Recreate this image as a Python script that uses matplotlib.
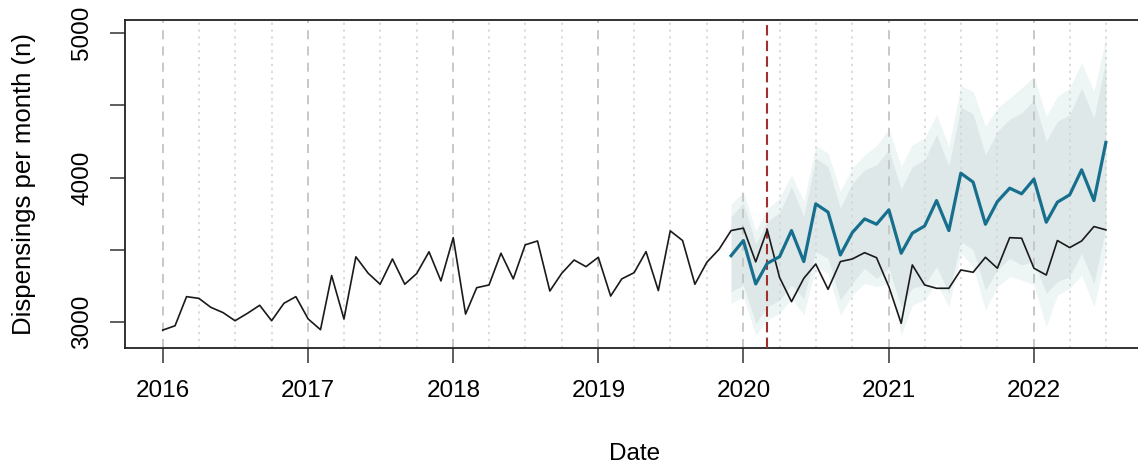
import numpy as np
import pandas as pd
import matplotlib
matplotlib.use("Agg")
import matplotlib.pyplot as plt
import matplotlib.dates as mdates

plt.rcParams['font.family'] = ['Liberation Sans', 'DejaVu Sans']

# observed monthly dispensings, Jan 2016 - Jul 2022
observed = [
    2942, 2972, 3174, 3162, 3100, 3063, 3007, 3058, 3114, 3007, 3128, 3174,
    3019, 2945, 3320, 3019, 3450, 3336, 3260, 3435, 3260, 3334, 3485, 3283,
    3583, 3053, 3236, 3255, 3475, 3297, 3533, 3560, 3213, 3336, 3428, 3382,
    3447, 3178, 3297, 3340, 3486, 3216, 3630, 3563, 3260, 3412, 3503, 3632,
    3649, 3415, 3637, 3307, 3139, 3301, 3400, 3225, 3417, 3435, 3479, 3444,
    3243, 2989, 3394, 3255, 3232, 3232, 3359, 3343, 3447, 3371, 3583, 3579,
    3371, 3324, 3563, 3514, 3560, 3660, 3637,
]

# counterfactual forecast, Dec 2019 - Jul 2022
forecast = [
    3458, 3563, 3262, 3405, 3451, 3632, 3417, 3817, 3760, 3463, 3618, 3713,
    3676, 3776, 3475, 3614, 3664, 3840, 3632, 4030, 3968, 3676, 3833, 3926,
    3887, 3989, 3690, 3829, 3880, 4053, 3840, 4243,
]
upper_95 = [
    3815, 3899, 3632, 3781, 3857, 4019, 3833, 4220, 4169, 3903, 4065, 4157,
    4220, 4336, 4076, 4227, 4273, 4435, 4215, 4637, 4597, 4354, 4482, 4551,
    4621, 4701, 4424, 4562, 4621, 4794, 4597, 4968,
]
upper_80 = [
    3729, 3822, 3540, 3694, 3757, 3937, 3729, 4134, 4076, 3787, 3961, 4053,
    4088, 4192, 3919, 4076, 4123, 4297, 4081, 4489, 4440, 4157, 4319, 4405,
    4447, 4540, 4250, 4389, 4435, 4621, 4412, 4810,
]
lower_80 = [
    3208, 3255, 2989, 3104, 3151, 3255, 3162, 3486, 3440, 3151, 3267, 3371,
    3301, 3371, 3104, 3232, 3255, 3382, 3197, 3556, 3498, 3220, 3359, 3440,
    3394, 3417, 3197, 3278, 3313, 3475, 3267, 3649,
]
lower_95 = [
    3128, 3174, 2908, 3012, 3058, 3162, 3047, 3382, 3336, 3047, 3185, 3267,
    3243, 3267, 2908, 3116, 3151, 3267, 3104, 3475, 3382, 3081, 3243, 3313,
    3290, 3255, 2965, 3185, 3232, 3324, 3104, 3475,
]

obs_dates = pd.date_range("2016-01-01", periods=len(observed), freq="MS")
fc_dates = pd.date_range("2019-12-01", periods=len(forecast), freq="MS")
intervention = pd.Timestamp("2020-03-01")

fig = plt.figure(figsize=(11.38, 4.73), dpi=100)
ax = fig.add_axes([0.1098, 0.2643, 0.8955, 0.6934])

# prediction intervals
ax.fill_between(fc_dates, lower_95, upper_95, color="#edf5f5", lw=0, zorder=1)
ax.fill_between(fc_dates, lower_80, upper_80, color="#dfe8e9", lw=0, zorder=1)

# year / quarter guide lines
for yr in range(2016, 2023):
    ax.axvline(pd.Timestamp(f"{yr}-01-01"), color="#c4c4c4", lw=1.3,
               ls=(0, (5, 4)), zorder=2)
for q in pd.date_range("2016-04-01", "2022-07-01", freq="QS"):
    if q.month != 1:
        ax.axvline(q, color="#d2d2d2", lw=1.1, ls=(0, (1.5, 3)), zorder=2)

ax.axvline(intervention, color="#a0302f", lw=1.5, ls=(0, (5, 2.5)), zorder=3)

ax.plot(obs_dates, observed, color="#1a1a1a", lw=1.2, zorder=4)
ax.plot(fc_dates, forecast, color="#176f8e", lw=2.3, zorder=5)

ax.set_xlim(pd.Timestamp("2015-09-28"), pd.Timestamp("2022-10-05"))
ax.set_ylim(2818, 5092)

ax.xaxis.set_major_locator(mdates.YearLocator())
ax.xaxis.set_major_formatter(mdates.DateFormatter("%Y"))
ax.set_yticks([3000, 3500, 4000, 4500, 5000])
ax.set_yticklabels(["3000", "", "4000", "", "5000"], rotation=90, va="center")

ax.tick_params(axis="both", length=11, width=1.1, color="#333333",
               labelsize=17.5, pad=12)
for sp in ax.spines.values():
    sp.set_linewidth(1.3)
    sp.set_color("#222222")

ax.set_xlabel("Date", fontsize=17.5)
ax.xaxis.set_label_coords(0.5, -0.29)
ax.set_ylabel("Dispensings per month (n)", fontsize=18.5)
ax.yaxis.set_label_coords(-0.087, 0.5)

plt.savefig("out.png", dpi=100)
